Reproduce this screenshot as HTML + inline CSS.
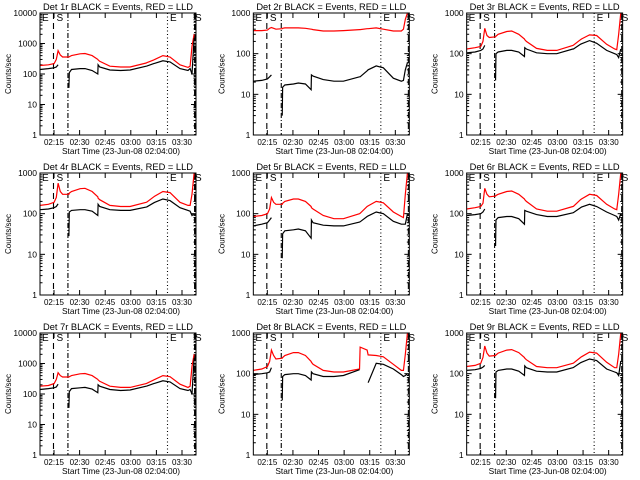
<!DOCTYPE html>
<html><head><meta charset="utf-8">
<style>
html,body{margin:0;padding:0;background:#fff;}
svg{display:block;font-family:"Liberation Sans",sans-serif;}
</style></head>
<body>
<svg id="chart" width="640" height="480" viewBox="0 0 640 480" xmlns="http://www.w3.org/2000/svg">
<rect x="0" y="0" width="640" height="480" fill="#fff"/>
</svg>
<script>
// time grid, minutes after 02:00
const times = [7.6,12,15,16.2,17.1,18.3,19.5,22.8,23.0,24.2,28.7,31.3,35,38.0,38.2,39.0,44.4,50,55,63.5,63.8,67.5,68,72.3,76,81.3,85.5,86.6,87.6,88.7];
const detNames = ["1r","2r","3r","4r","5r","6r","7r","8r","9r"];
const topDecades = [4,3,3,3,3,3,4,3,3];
const red1 = [190,200,220,300,580,420,360,360,370,400,460,470,400,300,290,260,180,170,170,230,235,290,300,400,360,200,165,180,800,2000];
const black1 = [140,150,160,170,200,null,null,35,110,140,150,150,130,100,200,170,135,130,135,180,182,220,225,270,250,150,130,150,100,1500];
const red2 = [370,370,380,420,440,420,400,410,420,430,430,430,420,400,400,390,360,360,370,390,390,410,410,430,400,360,360,400,700,1000];
const black2 = [21,22,24,27,30,null,null,3,15,17,18,19,18,13,30,28,23,21,21,27,27,38,40,50,45,25,21,22,40,60];
const red3 = [130,140,150,200,420,280,250,260,270,300,350,360,300,230,220,200,135,120,120,160,162,220,230,290,280,170,130,125,300,1200];
const black3 = [105,110,120,130,160,null,null,22,100,110,120,120,110,85,140,130,105,100,100,130,130,170,175,210,180,120,100,95,80,130];
const red4 = [160,170,190,250,560,350,300,300,320,350,410,420,350,260,240,220,160,150,150,190,192,260,270,350,330,190,160,160,300,1200];
const black4 = [125,130,140,150,175,null,null,28,110,120,125,125,115,90,170,150,125,120,120,145,147,185,190,230,210,140,120,115,90,100];
const red5 = [85,90,100,130,250,190,170,170,180,200,230,230,200,150,140,130,90,75,75,100,102,150,155,200,185,110,85,80,300,1200];
const black5 = [50,55,60,70,80,null,null,8,32,38,40,42,38,25,70,60,52,50,50,62,63,85,88,110,100,65,55,55,55,100];
const red6 = [130,140,150,180,420,300,260,270,280,300,350,360,300,230,220,200,130,115,115,150,152,220,230,300,280,170,130,125,300,1200];
const black6 = [90,95,100,110,130,null,null,16,70,80,85,85,75,55,120,115,95,85,85,105,106,140,145,170,150,110,90,85,70,100];
const red7 = [180,190,220,300,500,400,360,360,370,400,460,470,400,300,290,260,180,165,165,220,225,290,300,400,370,210,165,180,800,2000];
const black7 = [140,150,160,170,210,null,null,35,120,150,160,165,145,110,200,180,140,130,135,180,182,220,225,270,250,150,130,140,100,1500];
const red8 = [120,130,150,200,380,280,230,240,250,280,330,330,280,200,190,170,120,110,110,130,450,380,290,280,260,170,120,120,300,1200];
const black8 = [95,100,105,110,140,null,null,22,85,95,100,100,90,70,110,100,85,85,90,125,null,null,60,180,170,130,95,85,90,100];
const red9 = [150,160,180,250,480,320,270,280,290,320,380,390,330,250,240,220,150,140,140,180,182,250,260,340,320,190,140,140,300,1200];
const black9 = [120,125,135,145,160,null,null,25,110,120,130,130,115,90,155,140,115,110,110,140,142,185,190,230,210,130,110,105,90,200];
const redSeries = [red1,red2,red3,red4,red5,red6,red7,red8,red9];
const blackSeries = [black1,black2,black3,black4,black5,black6,black7,black8,black9];
const tickTimes = [15,30,45,60,75,90];
const tickLabels = ["02:15","02:30","02:45","03:00","03:15","03:30"];
const markerTimes = [14.7,22.3,74.7,89.2];

const NS="http://www.w3.org/2000/svg";
const svg=document.getElementById('chart');
const X0=40,X1=196,Y0=13,Y1=135,T0=7.6,T1=89.7;
function xs(t){return X0+(t-T0)/(T1-T0)*(X1-X0);}
function tickX(t){return 54+(t-15)/15*25.6;}
function ys(v,top){return Y0+(top-Math.log10(v))/top*(Y1-Y0);}
function mk(tag,attrs,parent){const e=document.createElementNS(NS,tag);for(const k in attrs)e.setAttribute(k,attrs[k]);parent.appendChild(e);return e;}

detNames.forEach((nm,i)=>{
  const col=i%3,row=Math.floor(i/3),top=topDecades[i];
  const g=mk('g',{transform:`translate(${(col*213.33).toFixed(2)},${row*160})`},svg);
  
  
  const title=mk('text',{x:118,y:10,'font-size':9,'text-anchor':'middle',textLength:150,lengthAdjust:'spacingAndGlyphs'},g);
  
  
  title.textContent=`Det ${nm} BLACK = Events, RED = LLD`;
  const yt=mk('text',{x:0,y:0,'font-size':8,'text-anchor':'middle',transform:'translate(11,74) rotate(-90)'},g);
  
  
  yt.textContent='Counts/sec';
  const xt=mk('text',{x:121,y:154,'font-size':8.5,'text-anchor':'middle',textLength:118,lengthAdjust:'spacingAndGlyphs'},g);
  
  
  xt.textContent='Start Time (23-Jun-08 02:04:00)';
  for(let d=0;d<=top;d++){
    const y=ys(Math.pow(10,d),top);
    mk('line',{x1:X0,x2:X0+5,y1:y,y2:y,stroke:'#000','stroke-width':1},g);
    mk('line',{x1:X1-5,x2:X1,y1:y,y2:y,stroke:'#000','stroke-width':1},g);
    const lb=mk('text',{x:37,y:y+3,'font-size':8.5,'text-anchor':'end'},g);
    
    
    lb.textContent=String(Math.pow(10,d));
    if(d<top){for(let m=2;m<=9;m++){const ym=ys(m*Math.pow(10,d),top);
      mk('line',{x1:X0,x2:X0+2.5,y1:ym,y2:ym,stroke:'#000','stroke-width':1},g);
      mk('line',{x1:X1-2.5,x2:X1,y1:ym,y2:ym,stroke:'#000','stroke-width':1},g);}}
  }
  tickTimes.forEach((t,k)=>{
    const x=tickX(t);
    mk('line',{x1:x,x2:x,y1:Y1,y2:Y1-5,stroke:'#000','stroke-width':1},g);
    mk('line',{x1:x,x2:x,y1:Y0,y2:Y0+5,stroke:'#000','stroke-width':1},g);
    const lb=mk('text',{x:x,y:145,'font-size':8,'text-anchor':'middle'},g);
    
    
    lb.textContent=tickLabels[k];
  });
  const dashes=['6,4','5,2,1,2','1,2.5','6,2,1,2'];
  markerTimes.forEach((t,k)=>{
    const x=xs(t);
    const ln=mk('line',{x1:x,x2:x,y1:Y0,y2:Y1,stroke:'#000','stroke-width':(k===3&&(top===4||i===3))?2:1.1,'stroke-dasharray':dashes[k]},g);
    
    
  });
  [['E',42],['S',56.5],['E',170],['S',195]].forEach(([c,x])=>{
    const t=mk('text',{x:x,y:21,'font-size':10},g);
    
    
    t.textContent=c;
  });
  function path(arr){let d='',pen=false;arr.forEach((v,j)=>{if(v==null){pen=false;return;}
    const y=Math.max(Y0,Math.min(Y1,ys(v,top)));d+=(pen?'L':'M')+xs(times[j]).toFixed(1)+','+y.toFixed(1);pen=true;});return d;}
  const rp=mk('path',{d:path(redSeries[i]),fill:'none',stroke:'#ff0000','stroke-width':1.2},g);
  
  
  const bp=mk('path',{d:path(blackSeries[i]),fill:'none',stroke:'#000','stroke-width':1.2},g);
  
  
  const fr=mk('rect',{x:X0,y:Y0,width:X1-X0,height:Y1-Y0,fill:'none',stroke:'#000','stroke-width':1},g);
  
  
});
</script>
</body></html>
